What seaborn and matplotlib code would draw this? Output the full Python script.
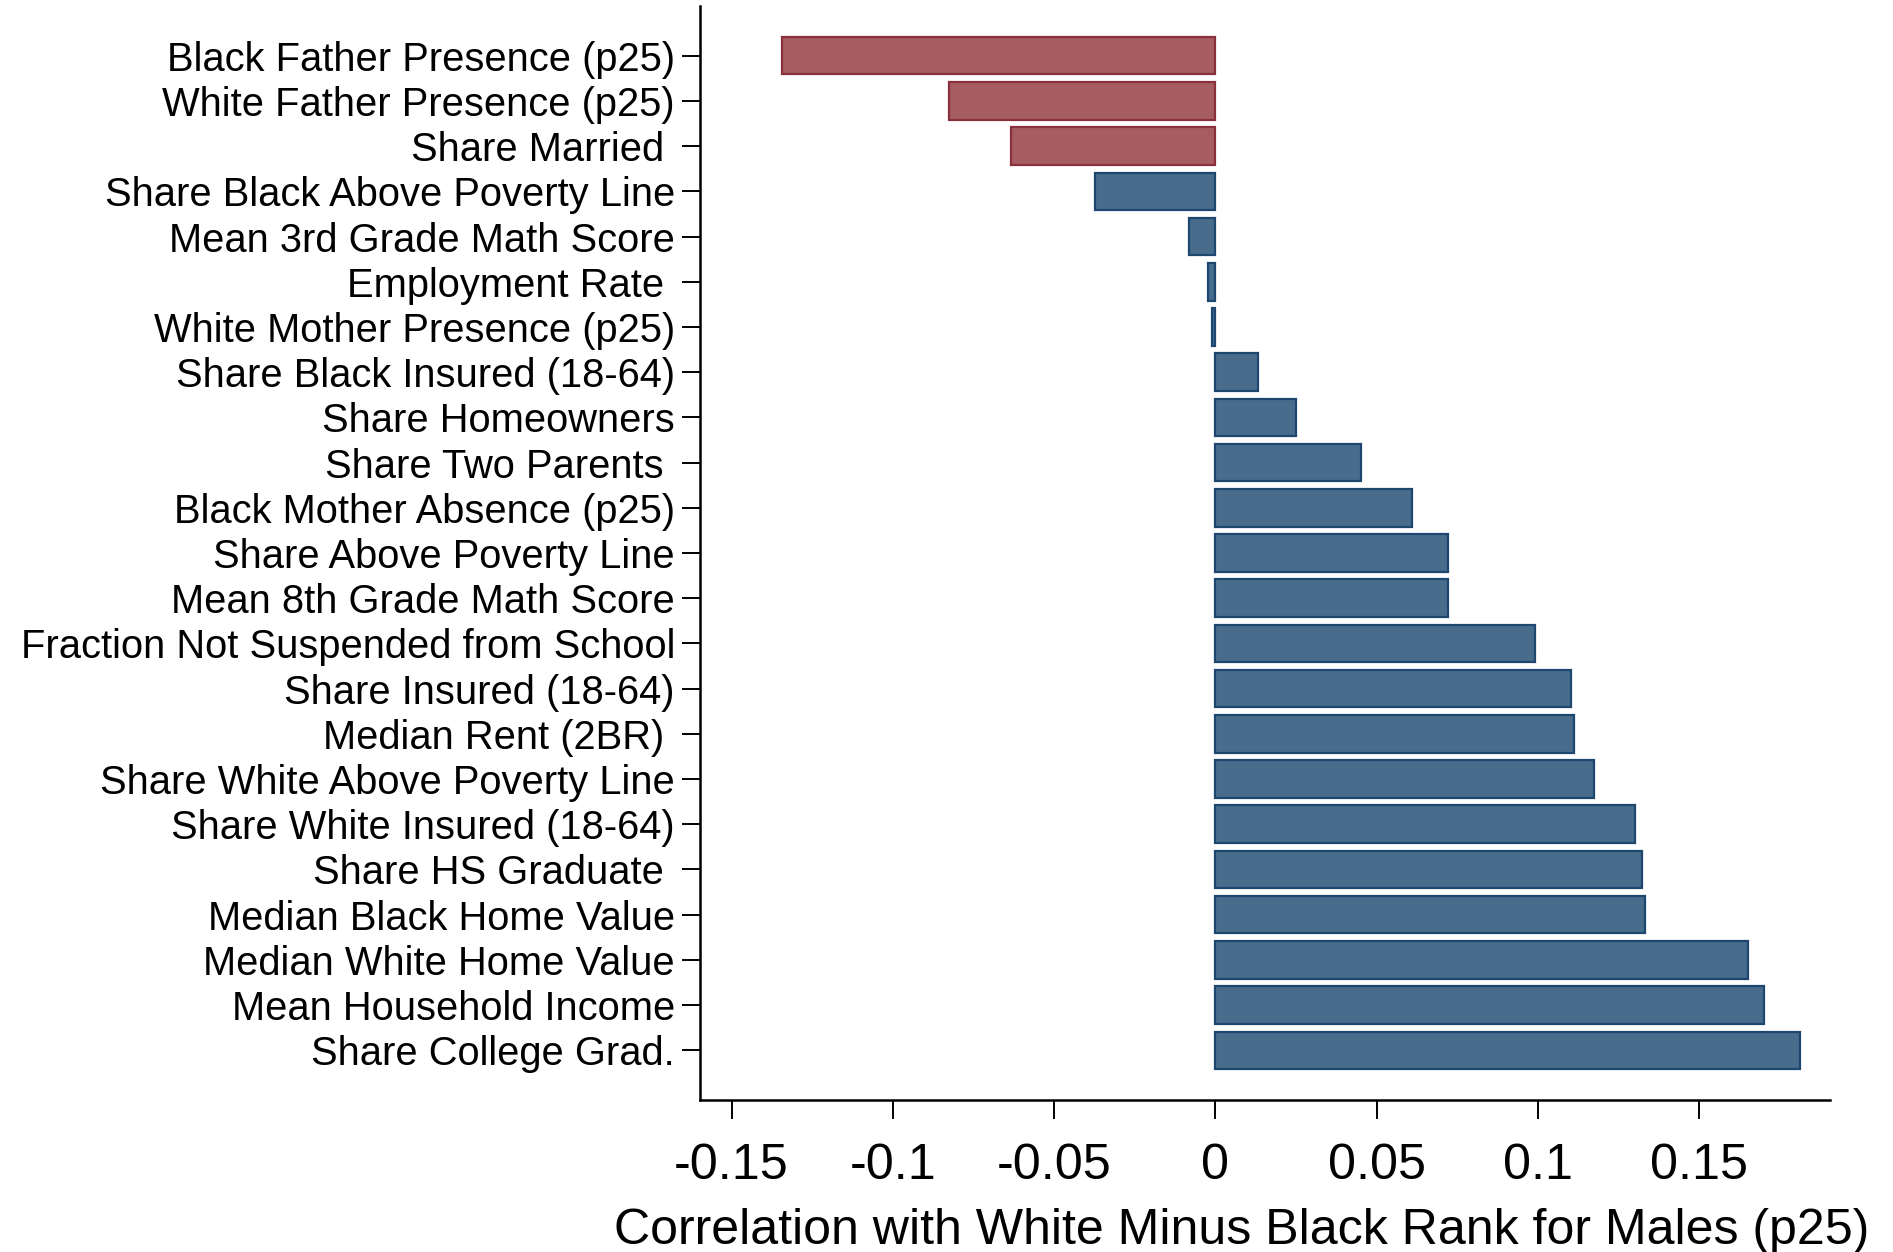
import matplotlib
matplotlib.use("Agg")
import matplotlib.pyplot as plt
import seaborn as sns
import pandas as pd
from matplotlib import font_manager

labels = [
    "Black Father Presence (p25)",
    "White Father Presence (p25)",
    "Share Married ",
    "Share Black Above Poverty Line",
    "Mean 3rd Grade Math Score",
    "Employment Rate ",
    "White Mother Presence (p25)",
    "Share Black Insured (18-64)",
    "Share Homeowners",
    "Share Two Parents ",
    "Black Mother Absence (p25)",
    "Share Above Poverty Line",
    "Mean 8th Grade Math Score",
    "Fraction Not Suspended from School",
    "Share Insured (18-64)",
    "Median Rent (2BR) ",
    "Share White Above Poverty Line",
    "Share White Insured (18-64)",
    "Share HS Graduate ",
    "Median Black Home Value",
    "Median White Home Value",
    "Mean Household Income",
    "Share College Grad.",
]
values = [
    -0.1343, -0.0825, -0.0634, -0.0374, -0.0083, -0.0023, -0.0011,
    0.0131, 0.0251, 0.0451, 0.0608, 0.0721, 0.0721, 0.0991, 0.1101,
    0.1111, 0.1173, 0.1302, 0.1321, 0.1332, 0.1651, 0.1701, 0.1811,
]
groups = ["red"] * 3 + ["blue"] * 20

x_ticks = [-0.15, -0.1, -0.05, 0, 0.05, 0.1, 0.15]
x_tick_labels = ["-0.15", "-0.1", "-0.05", "0", "0.05", "0.1", "0.15"]
x_title = "Correlation with White Minus Black Rank for Males (p25)"

fill = {"red": "#A55D62", "blue": "#476C8C"}
edge = {"red": "#8A2F3C", "blue": "#1E4770"}

df = pd.DataFrame({"label": labels, "value": values, "group": groups})

sns.set_theme(style="white")
try:
    font_manager.findfont("Liberation Sans Narrow", fallback_to_default=False)
    fam = ["Liberation Sans Narrow", "DejaVu Sans"]
    k = 1.0
except Exception:
    fam = ["Liberation Sans", "DejaVu Sans"]
    k = 0.82
plt.rcParams["font.family"] = fam
plt.rcParams["text.color"] = "black"
plt.rcParams["axes.labelcolor"] = "black"
plt.rcParams["xtick.color"] = "black"
plt.rcParams["ytick.color"] = "black"

fig = plt.figure(figsize=(18.93, 12.52), dpi=100)
ax = fig.add_axes([700 / 1893, 1 - 1100 / 1252, 1130 / 1893, 1094 / 1252])

sns.barplot(data=df, x="value", y="label", hue="group", palette=fill,
            order=labels, hue_order=["red", "blue"], dodge=False,
            width=0.83, saturation=1, legend=False, orient="h", ax=ax,
            linewidth=1.5)
# edge colours according to group (face colour)
for patch in ax.patches:
    fc = patch.get_facecolor()
    patch.set_edgecolor(edge["red"] if fc[0] > 0.5 else edge["blue"])
    patch.set_linewidth(1.6)

ax.set_xlim(-0.1598, 0.1905)
ax.set_ylim(22 + 1.1, -1.1)
ax.set_xticks(x_ticks)
ax.set_xticklabels(x_tick_labels)
ax.set_ylabel("")
ax.set_xlabel(x_title, fontsize=44 * k, color="black")
ax.xaxis.set_label_coords(0.479, -0.099)

for s in ["top", "right"]:
    ax.spines[s].set_visible(False)
for s in ["left", "bottom"]:
    ax.spines[s].set_linewidth(1.8)
    ax.spines[s].set_color("black")

ax.tick_params(axis="y", which="major", left=True, length=13, width=1.4,
               labelsize=35 * k, pad=5, color="black", labelcolor="black")
ax.tick_params(axis="x", which="major", bottom=True, length=14, width=1.4,
               labelsize=44 * k, pad=17, color="black", labelcolor="black")
ax.grid(False)

fig.savefig("out.png", dpi=100, facecolor="white")
